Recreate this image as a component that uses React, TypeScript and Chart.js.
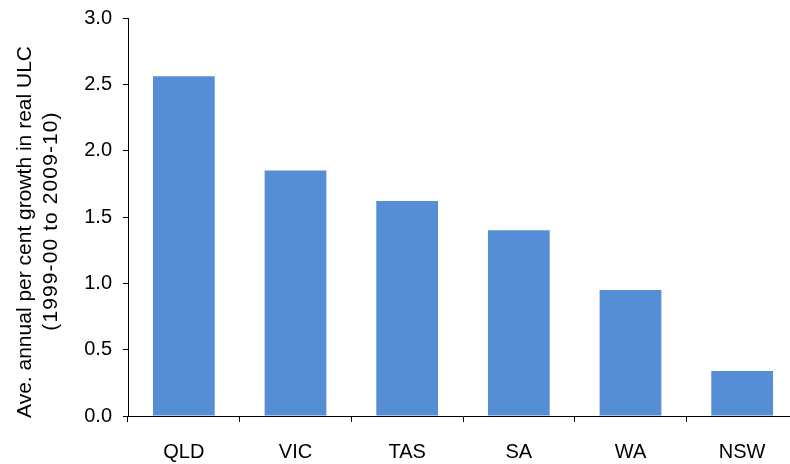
import React, { useEffect, useRef } from "react";
import { Chart, registerables } from "chart.js";

Chart.register(...registerables);

const categories = ["QLD", "VIC", "TAS", "SA", "WA", "NSW"];
const values = [2.56, 1.85, 1.62, 1.4, 0.95, 0.34];
const yTitleLines = ["Ave. annual per cent growth in real ULC", "(1999-00 to 2009-10)"];

const FONT_FAMILY = "'Liberation Sans', Arial, sans-serif";

const yTitlePlugin = {
  id: "yTitle",
  afterDraw(chart: any) {
    const ctx = chart.ctx;
    const area = chart.chartArea;
    const mid = (area.top + area.bottom) / 2;
    ctx.save();
    ctx.fillStyle = "#000";
    ctx.font = `21px ${FONT_FAMILY}`;
    ctx.textAlign = "center";
    ctx.textBaseline = "alphabetic";
    const xs = [31, 57];
    const dy = [15, 4];
    const spacing = ["0px", "1.1px"];
    yTitleLines.forEach((line, i) => {
      ctx.save();
      try {
        (ctx as any).letterSpacing = spacing[i];
      } catch (e) {}
      ctx.translate(xs[i], mid + dy[i]);
      ctx.rotate(-Math.PI / 2);
      ctx.fillText(line, 0, 0);
      ctx.restore();
    });
    ctx.restore();
  },
};

export default function App() {
  const ref = useRef<HTMLCanvasElement | null>(null);
  useEffect(() => {
    if (!ref.current) return;
    const font = { family: FONT_FAMILY, size: 20 };
    const chart = new Chart(ref.current, {
      type: "bar",
      data: {
        labels: categories,
        datasets: [
          {
            data: values,
            backgroundColor: "#558ED5",
            barPercentage: 0.553,
            categoryPercentage: 1,
          },
        ],
      },
      options: {
        animation: false,
        responsive: true,
        maintainAspectRatio: false,
        layout: { padding: { top: 18, bottom: 0, left: 0, right: 0 } },
        plugins: { legend: { display: false }, tooltip: { enabled: false } },
        scales: {
          x: {
            afterFit: (s: any) => {
              s.height = 48;
              s.paddingLeft = 0;
              s.paddingRight = 0;
            },
            grid: {
              display: true,
              drawOnChartArea: false,
              drawTicks: true,
              tickLength: 6,
              color: "#000",
              offset: true,
            },
            border: { color: "#000", width: 1 },
            ticks: { color: "#000", font, padding: 18, maxRotation: 0 },
          },
          y: {
            min: 0,
            max: 3,
            afterFit: (s: any) => {
              s.width = 128;
              s.paddingTop = 0;
              s.paddingBottom = 0;
            },
            ticks: {
              stepSize: 0.5,
              color: "#000",
              font,
              padding: 11,
              callback: (v: any) => Number(v).toFixed(1),
            },
            grid: {
              display: true,
              drawOnChartArea: false,
              drawTicks: true,
              tickLength: 5,
              color: "#000",
            },
            border: { color: "#000", width: 1 },
          },
        },
      },
      plugins: [yTitlePlugin],
    });
    return () => chart.destroy();
  }, []);
  return (
    <div
      style={{
        position: "absolute",
        left: 0,
        top: 0,
        width: 790,
        height: 464,
        overflow: "hidden",
        background: "#fff",
      }}
    >
      <div style={{ width: 798, height: 464, position: "relative" }}>
        <canvas ref={ref} />
      </div>
    </div>
  );
}
